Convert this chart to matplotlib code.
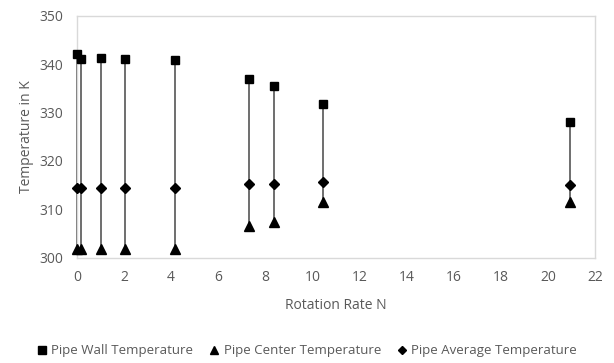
import matplotlib
matplotlib.use("Agg")
import matplotlib.pyplot as plt

rotation_rate = [0.0, 0.18, 1.03, 2.06, 4.17, 7.31, 8.35, 10.45, 20.94]
wall_temp = [342.0, 341.0, 341.3, 341.1, 340.8, 337.0, 335.5, 331.8, 328.1]
center_temp = [301.7, 301.7, 301.7, 301.8, 301.8, 306.6, 307.3, 311.5, 311.4]
avg_temp = [314.4, 314.3, 314.4, 314.4, 314.4, 315.1, 315.1, 315.6, 315.0]

xticks = list(range(0, 23, 2))
yticks = list(range(300, 351, 10))

plt.rcParams['font.family'] = ['Open Sans', 'DejaVu Sans']
text_color = '#595959'

fig = plt.figure(figsize=(6.14, 3.63), dpi=100)
ax = fig.add_axes([0.1254, 0.2906, 0.8436, 0.6662])

ax.vlines(rotation_rate, center_temp, wall_temp, colors='#6e6e6e', linewidth=1.4, zorder=1,
          clip_on=False)
ax.plot(rotation_rate, wall_temp, linestyle='none', marker='s', ms=6.2, color='black',
        label='Pipe Wall Temperature', zorder=3, clip_on=False)
ax.plot(rotation_rate, center_temp, linestyle='none', marker='^', ms=7, color='black',
        label='Pipe Center Temperature', zorder=3, clip_on=False)
ax.plot(rotation_rate, avg_temp, linestyle='none', marker='D', ms=4.8, color='black',
        label='Pipe Average Temperature', zorder=3, clip_on=False)

ax.set_xlim(0, 22)
ax.set_ylim(300, 350)
ax.set_xticks(xticks)
ax.set_yticks(yticks)
ax.tick_params(length=0, labelsize=10, labelcolor=text_color)
ax.tick_params(axis='y', pad=10)
ax.tick_params(axis='x', pad=9)
for s in ax.spines.values():
    s.set_color('#d9d9d9')
    s.set_linewidth(1.0)

ax.set_xlabel('Rotation Rate N', fontsize=10, color=text_color, labelpad=9)
ax.set_ylabel('Temperature in K', fontsize=10, color=text_color, labelpad=4)

leg = fig.legend(loc='center', bbox_to_anchor=(0.5, 0.034), ncol=3, frameon=False,
                 fontsize=9.5, handlelength=0.8, handletextpad=0.3, columnspacing=1.2,
                 markerscale=0.85)
for t in leg.get_texts():
    t.set_color(text_color)

fig.savefig('out.png', dpi=100)
